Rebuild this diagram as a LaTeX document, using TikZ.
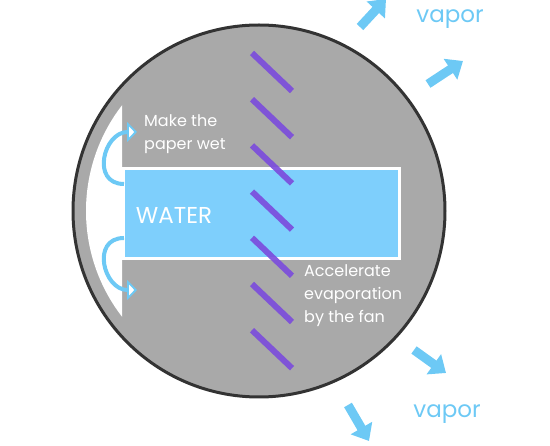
\documentclass[tikz,border=0pt]{standalone}
\usepackage{fontspec}
\setmainfont{Poppins}
\usetikzlibrary{arrows.meta}
\definecolor{rimgray}{HTML}{A9A9A9}
\definecolor{rimline}{HTML}{333333}
\definecolor{waterblue}{HTML}{7ECFFC}
\definecolor{vaporblue}{HTML}{6DC9F5}
\definecolor{bladeviolet}{HTML}{7B4BDC}
\pgfdeclarelayer{bg}
\pgfsetlayers{bg,main}
\tikzset{
  label text/.style={text=white, font=\fontsize{16}{23}\selectfont, align=left, inner sep=0pt},
  vapor text/.style={text=vaporblue, font=\fontsize{23}{26}\selectfont, inner sep=0pt},
  wick/.style={draw=vaporblue, line width=4pt, -{Triangle[length=10pt,width=20pt,line width=1.8pt,fill=white]}},
  vapor arrow/.style={draw=vaporblue, line width=9pt, -{Triangle[length=15pt,width=24pt]}},
  blade/.style={draw=bladeviolet, line width=6pt, opacity=0.9}
}
\begin{document}
\begin{tikzpicture}[x=1pt, y=-1pt]
        \useasboundingbox (0,0) rectangle (550,446);
        \begin{pgfonlayer}{bg}
                \node (disc) [circle, draw=rimline, fill=rimgray, line width=3pt, minimum size=372pt, inner sep=0pt] at (259,211) {};
                \begin{scope}
                        \clip (0,0) rectangle (122,446);
                        \fill[white] (259,211) circle [radius=173pt];
                \end{scope}
        \end{pgfonlayer}
        \node (water) [rectangle, draw=white, line width=3pt, fill=waterblue, minimum width=276pt, minimum height=90pt, inner sep=0pt, anchor=north west] at (122,167) {};
        \node (watertxt) [text=white, font=\fontsize{23}{26}\selectfont, inner sep=0pt] at (174,215) {WATER};
        \foreach \k in {0,...,6}
                \draw[blade] (252,53+46.2*\k) -- ++(40,38);
        \coordinate (src1) at (124,184);
        \coordinate (dst1) at (137,132);
        \coordinate (src2) at (124,238);
        \coordinate (dst2) at (137,290);
        \draw[wick] (src1) to [out=180, in=180, looseness=1.6] (dst1);
        \draw[wick] (src2) to [out=180, in=180, looseness=1.6] (dst2);
        \node (wet) [label text, anchor=west] at (144,134) {Make the\\paper wet};
        \node (fan) [label text, anchor=west] at (304,296) {Accelerate\\evaporation\\by the fan};
        \coordinate (v1a) at (360,27);
        \coordinate (v1b) at (386,-1);
        \coordinate (v2a) at (428,84);
        \coordinate (v2b) at (463,61);
        \coordinate (v3a) at (414,350);
        \coordinate (v3b) at (446,373);
        \coordinate (v4a) at (348,405);
        \coordinate (v4b) at (369,441);
        \draw (v1a) edge [vapor arrow] (v1b);
        \draw (v2a) edge [vapor arrow] (v2b);
        \draw (v3a) edge [vapor arrow] (v3b);
        \draw (v4a) edge [vapor arrow] (v4b);
        \node (vaportop) [vapor text] at (450,19) {vapor};
        \node (vaporbot) [vapor text] at (447,414) {vapor};
\end{tikzpicture}
\end{document}
